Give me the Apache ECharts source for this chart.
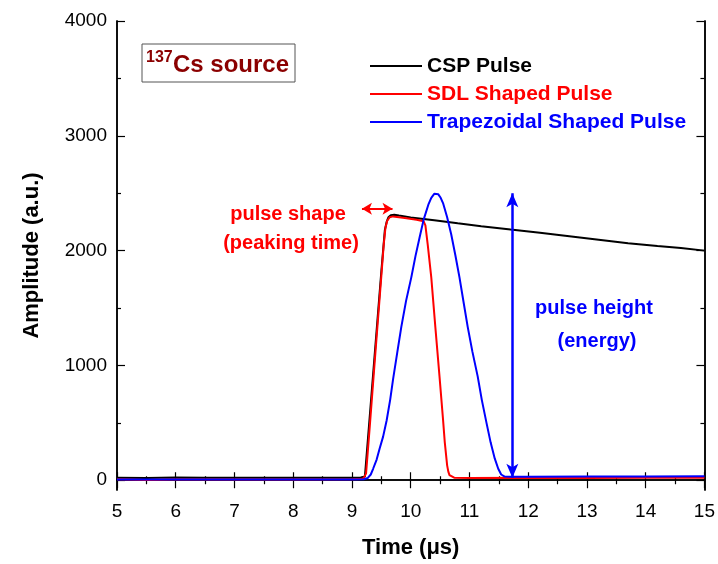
<!DOCTYPE html>
<html>
<head>
<meta charset="utf-8">
<script src="https://cdn.jsdelivr.net/npm/echarts@6/dist/echarts.min.js"></script>
<style>
html,body{margin:0;padding:0;background:#fff;}
#chart{width:718px;height:564px;}
</style>
</head>
<body>
<div id="chart"></div>
<script>
// ---- data ----
const cspTime = [5, 5.5, 6, 6.5, 7, 7.5, 8, 8.5, 9, 9.15, 9.22, 9.3, 9.4, 9.5, 9.56, 9.59, 9.62, 9.66, 9.72, 9.8, 10.0, 10.4, 10.8, 11.2, 11.7, 12.2, 12.7, 13.2, 13.7, 14.2, 14.6, 15];
const cspAmp  = [22, 20, 24, 22, 22, 22, 22, 22, 22, 24, 32, 540, 1180, 1820, 2180, 2250, 2290, 2308, 2312, 2305, 2288, 2265, 2238, 2212, 2183, 2155, 2125, 2095, 2065, 2040, 2022, 2000];

const sdlTime = [5, 5.5, 6, 6.5, 7, 8, 9, 9.15, 9.2, 9.24, 9.3, 9.4, 9.5, 9.54, 9.57, 9.6, 9.64, 9.7, 9.9, 10.1, 10.22, 10.25, 10.29, 10.35, 10.42, 10.49, 10.55, 10.58, 10.62, 10.64, 10.66, 10.69, 10.74, 11, 12, 13, 14, 15];
const sdlAmp  = [8, 2, 6, 6, 6, 6, 8, 10, 18, 60, 450, 1120, 1780, 2050, 2200, 2260, 2290, 2298, 2285, 2268, 2255, 2220, 2050, 1767, 1330, 905, 530, 330, 130, 75, 45, 28, 22, 20, 22, 20, 22, 22];

const trapTime = [5, 6, 7, 8, 9, 9.2, 9.27, 9.32, 9.36, 9.42, 9.47, 9.53, 9.59, 9.65, 9.7, 9.77, 9.84, 9.92, 10.01, 10.08, 10.15, 10.22, 10.3, 10.35, 10.4, 10.43, 10.47, 10.51, 10.55, 10.62, 10.69, 10.76, 10.83, 10.9, 10.97, 11.05, 11.14, 11.21, 11.29, 11.36, 11.43, 11.49, 11.54, 11.6, 11.7, 12, 13, 14, 15];
const trapAmp  = [6, 6, 6, 6, 6, 8, 20, 50, 100, 180, 275, 380, 520, 700, 880, 1110, 1336, 1560, 1767, 1950, 2112, 2270, 2400, 2460, 2495, 2500, 2490, 2460, 2414, 2290, 2141, 1960, 1767, 1550, 1336, 1120, 905, 700, 500, 330, 190, 100, 50, 32, 30, 30, 32, 32, 34];

const seriesNames = ['CSP Pulse', 'SDL Shaped Pulse', 'Trapezoidal Shaped Pulse'];
const xTicks = [5, 6, 7, 8, 9, 10, 11, 12, 13, 14, 15];
const yMajor = [0, 1000, 2000, 3000, 4000];
const yMinor = [500, 1500, 2500, 3500];

const peakArrowY = 2365, peakArrowX = [9.17, 9.69];
const heightArrowX = 11.73, heightArrowY = [2500, 22];

// ---- chart ----
const zip = (a, b) => a.map((v, i) => [v, b[i]]);
const FONT = '"Liberation Sans", Arial, sans-serif';
const colors = ['#000000', '#ff0000', '#0000ff'];

const chart = echarts.init(document.getElementById('chart'), null, {renderer: 'canvas'});

const axisLine = {show: true, lineStyle: {color: '#000', width: 1.5}};
function yAxisDef(pos, values, len, labels) {
  return {
    type: 'value', position: pos, min: -85, max: 4000,
    axisLine: axisLine,
    axisTick: {show: true, inside: true, length: len, customValues: values, lineStyle: {color: '#000', width: 1.2}},
    axisLabel: labels ? {show: true, customValues: values, fontFamily: FONT, fontSize: 19, color: '#000', margin: 10,
      formatter: v => String(v)} : {show: false},
    splitLine: {show: false},
    name: labels ? 'Amplitude (a.u.)' : '',
    nameLocation: 'middle', nameGap: 74,
    nameTextStyle: {fontFamily: FONT, fontSize: 22, fontWeight: 'bold', color: '#000'}
  };
}
function xAxisDef(pos, labels) {
  return {
    type: 'value', position: pos, min: 5, max: 15, interval: 1,
    axisLine: axisLine,
    axisTick: {show: true, inside: true, length: 8, lineStyle: {color: '#000', width: 1.2}},
    minorTick: {show: true, splitNumber: 2, length: 4, lineStyle: {color: '#000', width: 1.2}},
    axisLabel: labels ? {show: true, fontFamily: FONT, fontSize: 19, color: '#000', margin: 12,
      formatter: v => xTicks.includes(v) ? String(v) : ''} : {show: false},
    splitLine: {show: false}, minorSplitLine: {show: false},
    name: labels ? 'Time (μs)' : '',
    nameLocation: 'middle', nameGap: 47,
    nameTextStyle: {fontFamily: FONT, fontSize: 22, fontWeight: 'bold', color: '#000'}
  };
}

const option = {
  animation: false,
  backgroundColor: '#fff',
  grid: {left: 117, right: 13, top: 21, bottom: 69.5, containLabel: false},
  xAxis: [xAxisDef('bottom', true), xAxisDef('top', false)],
  yAxis: [
    yAxisDef('left', yMajor, 8, true),
    yAxisDef('left', yMinor, 4, false),
    yAxisDef('right', yMajor, 8, false),
    yAxisDef('right', yMinor, 4, false)
  ],
  legend: {
    orient: 'vertical', left: 365, top: 50,
    itemWidth: 52, itemHeight: 2, itemGap: 6, icon: 'rect',
    textStyle: {fontFamily: FONT, fontSize: 21, fontWeight: 'bold', lineHeight: 22},
    data: seriesNames.map((n, i) => ({name: n, textStyle: {color: colors[i]}})),
    selectedMode: false
  },
  series: [
    {
      name: seriesNames[0], type: 'line', data: zip(cspTime, cspAmp),
      showSymbol: false, symbol: 'none', color: colors[0],
      lineStyle: {color: colors[0], width: 2}, z: 2
    },
    {
      name: seriesNames[1], type: 'line', data: zip(sdlTime, sdlAmp),
      showSymbol: false, symbol: 'none', color: colors[1],
      lineStyle: {color: colors[1], width: 2}, z: 3,
      markLine: {
        silent: true, symbol: ['arrow', 'arrow'], symbolSize: [9, 10],
        label: {show: false},
        lineStyle: {color: colors[1], width: 2, type: 'solid'},
        data: [[{coord: [peakArrowX[0], peakArrowY]}, {coord: [peakArrowX[1], peakArrowY]}]]
      }
    },
    {
      name: seriesNames[2], type: 'line', data: zip(trapTime, trapAmp),
      showSymbol: false, symbol: 'none', color: colors[2],
      lineStyle: {color: colors[2], width: 2}, z: 4,
      markLine: {
        silent: true, symbol: ['arrow', 'arrow'], symbolSize: [9, 14],
        label: {show: false},
        lineStyle: {color: colors[2], width: 2.5, type: 'solid'},
        data: [[{coord: [heightArrowX, heightArrowY[0]]}, {coord: [heightArrowX, heightArrowY[1]]}]]
      }
    }
  ],
  graphic: [
    {type: 'rect', shape: {x: 142, y: 44, width: 153, height: 38},
     style: {fill: '#fff', stroke: '#555', lineWidth: 1}, z: 10},
    {type: 'text', x: 146, y: 58, z: 11,
     style: {text: '137', fontFamily: FONT, fontSize: 16, fontWeight: 'bold', fill: '#8b0000', textVerticalAlign: 'middle'}},
    {type: 'text', x: 173, y: 65, z: 11,
     style: {text: 'Cs source', fontFamily: FONT, fontSize: 24, fontWeight: 'bold', fill: '#8b0000', textVerticalAlign: 'middle'}},
    {type: 'text', x: 288, y: 214, z: 11,
     style: {text: 'pulse shape', fontFamily: FONT, fontSize: 20, fontWeight: 'bold', fill: '#ff0000', textAlign: 'center', textVerticalAlign: 'middle'}},
    {type: 'text', x: 291, y: 243, z: 11,
     style: {text: '(peaking time)', fontFamily: FONT, fontSize: 20, fontWeight: 'bold', fill: '#ff0000', textAlign: 'center', textVerticalAlign: 'middle'}},
    {type: 'text', x: 594, y: 308, z: 11,
     style: {text: 'pulse height', fontFamily: FONT, fontSize: 20, fontWeight: 'bold', fill: '#0000ff', textAlign: 'center', textVerticalAlign: 'middle'}},
    {type: 'text', x: 597, y: 341, z: 11,
     style: {text: '(energy)', fontFamily: FONT, fontSize: 20, fontWeight: 'bold', fill: '#0000ff', textAlign: 'center', textVerticalAlign: 'middle'}}
  ]
};
chart.setOption(option);
</script>
</body>
</html>
